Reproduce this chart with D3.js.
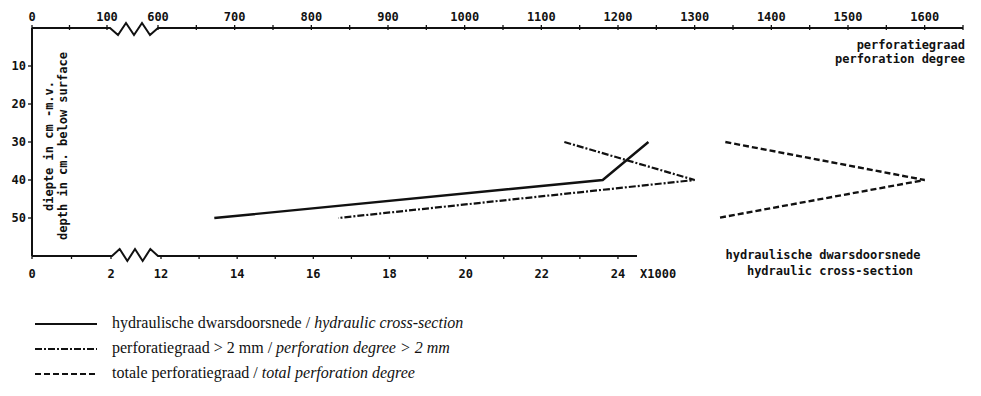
<!DOCTYPE html>
<html><head><meta charset="utf-8">
<script src="https://cdn.jsdelivr.net/npm/d3@7"></script>
<style>
html,body{margin:0;padding:0;background:#fff;}
svg{display:block;}
.lab{font-family:"DejaVu Sans Mono",monospace;font-weight:bold;fill:#111;}
.leg{font-family:"Liberation Serif",serif;fill:#111;}
</style></head><body>
<svg id="c" width="981" height="396"></svg>
<script>
// ---- data ----
const depths = [30, 40, 50];                 // cm below surface
const hydraulic = [24.8, 23.6, 13.4];        // hydraulic cross-section (x1000), bottom scale
const perf2mm = [1130, 1300, 835];           // perforation degree > 2 mm, top scale
const perfTotal = [1340, 1600, 1330];        // total perforation degree, top scale
const topLabels = [0, 100, 600, 700, 800, 900, 1000, 1100, 1200, 1300, 1400, 1500, 1600];
const topMinor = [50, 650, 750, 850, 950, 1050, 1150, 1250, 1350, 1450, 1550, 1650];
const bottomLabels = [0, 2, 12, 14, 16, 18, 20, 22, 24];
const bottomMinor = [1, 13, 15, 17, 19, 21, 23];
const depthTicks = [10, 20, 30, 40, 50];

const svg = d3.select("#c");
const ink = "#111";

// scales (broken axes: piecewise linear)
const xTop = d3.scaleLinear().domain([0, 100, 600, 1650]).range([32, 107, 158, 963]);
const xBot = d3.scaleLinear().domain([0, 2, 12, 24.5]).range([32, 111, 161, 637]);
const y = d3.scaleLinear().domain([0, 60]).range([28, 256]);

const yTop = y(0), yBot = y(60);

// zigzag helper
function zig(x0, x1, yy, dir) {
  const n = 6, pts = [[x0, yy]];
  for (let i = 1; i < n; i++) {
    const xx = x0 + (x1 - x0) * i / n;
    pts.push([xx, yy + (i % 2 ? 7 : -5) * dir]);
  }
  pts.push([x1, yy]);
  return pts;
}
const line = d3.line();

// top axis
const topPath = [[xTop(0), yTop], [xTop(100) + 3, yTop]]
  .concat(zig(xTop(100) + 3, xTop(600), yTop, 1).slice(1))
  .concat([[xTop(1650), yTop]]);
svg.append("path").attr("d", line(topPath)).attr("fill", "none").attr("stroke", ink).attr("stroke-width", 2);
svg.selectAll(".tt").data(topLabels.concat(topMinor)).join("line")
  .attr("x1", d => xTop(d)).attr("x2", d => xTop(d))
  .attr("y1", yTop - 3).attr("y2", yTop + 2).attr("stroke", ink).attr("stroke-width", 1.3);
svg.selectAll(".tl").data(topLabels).join("text").attr("class", "lab")
  .attr("x", d => xTop(d)).attr("y", 21).attr("text-anchor", "middle")
  .attr("font-size", 12).text(d => d);

// bottom axis
const botPath = [[xBot(0), yBot], [xBot(2) + 1, yBot]]
  .concat(zig(xBot(2) + 1, xBot(12) - 3, yBot, -1).slice(1))
  .concat([[xBot(24.5), yBot]]);
svg.append("path").attr("d", line(botPath)).attr("fill", "none").attr("stroke", ink).attr("stroke-width", 2);
svg.selectAll(".bt").data(bottomLabels.concat(bottomMinor)).join("line")
  .attr("x1", d => xBot(d)).attr("x2", d => xBot(d))
  .attr("y1", yBot - 1).attr("y2", yBot + 3).attr("stroke", ink).attr("stroke-width", 1.3);
svg.selectAll(".bl").data(bottomLabels).join("text").attr("class", "lab")
  .attr("x", d => xBot(d)).attr("y", 278).attr("text-anchor", "middle")
  .attr("font-size", 12).text(d => d);
svg.append("text").attr("class", "lab").attr("x", 640).attr("y", 278)
  .attr("font-size", 12).text("X1000");

// left axis
svg.append("line").attr("x1", 32).attr("x2", 32).attr("y1", yTop).attr("y2", yBot)
  .attr("stroke", ink).attr("stroke-width", 2);
svg.selectAll(".yt").data(depthTicks).join("line")
  .attr("x1", 28).attr("x2", 32).attr("y1", d => y(d)).attr("y2", d => y(d))
  .attr("stroke", ink).attr("stroke-width", 1.3);
svg.selectAll(".yl").data(depthTicks).join("text").attr("class", "lab")
  .attr("x", 26).attr("y", d => y(d) + 4).attr("text-anchor", "end")
  .attr("font-size", 12).text(d => d);

// y title
const yt = svg.append("g").attr("transform", "translate(0,146)");
yt.append("text").attr("class", "lab").attr("transform", "translate(53,0) rotate(-90)")
  .attr("text-anchor", "middle").attr("font-size", 12).text("diepte in cm -m.v.");
yt.append("text").attr("class", "lab").attr("transform", "translate(67,0) rotate(-90)")
  .attr("text-anchor", "middle").attr("font-size", 12).text("depth in cm. below surface");

// right labels
svg.append("text").attr("class", "lab").attr("x", 965).attr("y", 49).attr("text-anchor", "end")
  .attr("font-size", 12).text("perforatiegraad");
svg.append("text").attr("class", "lab").attr("x", 965).attr("y", 63).attr("text-anchor", "end")
  .attr("font-size", 12).text("perforation degree");
svg.append("text").attr("class", "lab").attr("x", 823).attr("y", 259).attr("text-anchor", "middle")
  .attr("font-size", 12).text("hydraulische dwarsdoorsnede");
svg.append("text").attr("class", "lab").attr("x", 830).attr("y", 275).attr("text-anchor", "middle")
  .attr("font-size", 12).text("hydraulic cross-section");

// data lines
const styles = {
  solid: { dash: null, w: 2.4 },
  dashdot: { dash: "7,2,2,2", w: 2.2 },
  dashed: { dash: "6,3", w: 2.4 }
};
function drawSeries(vals, xs, st) {
  const pts = depths.map((d, i) => [xs(vals[i]), y(d)]);
  svg.append("path").attr("d", line(pts)).attr("fill", "none").attr("stroke", ink)
    .attr("stroke-width", st.w).attr("stroke-dasharray", st.dash)
    .attr("stroke-linejoin", "miter");
}
drawSeries(hydraulic, xBot, styles.solid);
drawSeries(perf2mm, xTop, styles.dashdot);
drawSeries(perfTotal, xTop, styles.dashed);

// legend
const legend = [
  { st: styles.solid, a: "hydraulische dwarsdoorsnede / ", b: "hydraulic cross-section" },
  { st: styles.dashdot, a: "perforatiegraad > 2 mm / ", b: "perforation degree > 2 mm" },
  { st: styles.dashed, a: "totale perforatiegraad / ", b: "total perforation degree" }
];
legend.forEach((l, i) => {
  const ly = 324 + i * 25;
  svg.append("line").attr("x1", 35).attr("x2", 97).attr("y1", ly).attr("y2", ly)
    .attr("stroke", ink).attr("stroke-width", 2).attr("stroke-dasharray", l.st.dash);
  const t = svg.append("text").attr("class", "leg").attr("x", 112).attr("y", ly + 4).attr("font-size", 16);
  t.append("tspan").text(l.a);
  t.append("tspan").attr("font-style", "italic").text(l.b);
});
</script>
</body></html>
